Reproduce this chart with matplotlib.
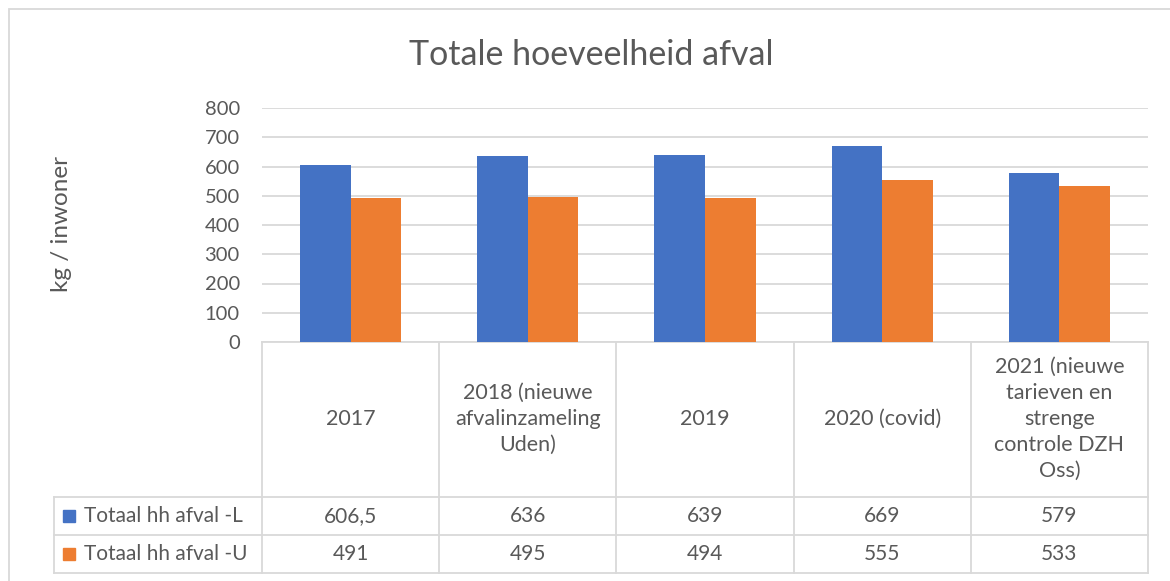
#!/usr/bin/env python3
import matplotlib
matplotlib.use('Agg')
import matplotlib.pyplot as plt
import matplotlib.transforms as mtransforms
from matplotlib.lines import Line2D
from matplotlib.patches import Rectangle
import numpy as np

# data
categories = [
    "2017",
    "2018 (nieuwe\nafvalinzameling\nUden)",
    "2019",
    "2020 (covid)",
    "2021 (nieuwe\ntarieven en\nstrenge\ncontrole DZH\nOss)",
]
series_names = ["Totaal hh afval -L", "Totaal hh afval -U"]
afval_L = [606.5, 636, 639, 669, 579]
afval_U = [491, 495, 494, 555, 533]
y_ticks = [0, 100, 200, 300, 400, 500, 600, 700, 800]

colors = ["#4472C4", "#ED7D31"]
GREY = "#595959"
LINE = "#D9D9D9"

plt.rcParams['font.family'] = ['Lato', 'DejaVu Sans']

W, H = 1170, 581
fig = plt.figure(figsize=(W / 100, H / 100), dpi=100)

def fx(px):  # pixel -> figure fraction
    return px / W

def fy(py):
    return 1 - py / H

# outer chart frame (cut off at right/bottom like the screenshot)
fig.add_artist(Rectangle((fx(9), -0.5), 2, fy(9) + 0.5, transform=fig.transFigure,
                         fill=False, edgecolor=LINE, lw=1.3))

ax = fig.add_axes([fx(262), fy(342), fx(1148) - fx(262), fy(108) - fy(342)])
x = np.arange(len(categories))
bw = 0.285
for i, vals in enumerate([afval_L, afval_U]):
    ax.bar(x + (i - 0.5) * bw, vals, bw, color=colors[i], zorder=3)

ax.set_xlim(-0.5, len(categories) - 0.5)
ax.set_ylim(0, 800)
ax.set_yticks(y_ticks)
ax.set_xticks([])
ax.yaxis.grid(True, color=LINE, lw=1.3)
ax.set_axisbelow(True)
for s in ['top', 'right', 'left']:
    ax.spines[s].set_visible(False)
ax.spines['bottom'].set_color(LINE)
ax.spines['bottom'].set_linewidth(1.3)
ax.tick_params(axis='y', length=0, pad=16, labelsize=14.5, labelcolor=GREY)

fig.text(fx(591), fy(55), "Totale hoeveelheid afval", ha='center', va='center',
         fontsize=24.5, color=GREY)
fig.text(fx(62), fy(224), "kg / inwoner", ha='center', va='center', rotation=90,
         fontsize=17.5, color=GREY)

# data table under the chart
tr = mtransforms.blended_transform_factory(ax.transData, fig.transFigure)
x_right = ax.get_position().x1
lkw = dict(color=LINE, lw=1.3)

for xe in np.arange(len(categories) + 1) - 0.5:
    fig.add_artist(Line2D([xe, xe], [fy(342), fy(573)], transform=tr, **lkw))
for yl in [497, 535, 573]:
    fig.add_artist(Line2D([fx(54), x_right], [fy(yl), fy(yl)], transform=fig.transFigure, **lkw))
fig.add_artist(Line2D([fx(54), fx(54)], [fy(497), fy(573)], transform=fig.transFigure, **lkw))

for xi, cat in zip(x, categories):
    fig.text(xi, fy(419), cat, transform=tr, ha='center', va='center',
             multialignment='center', linespacing=1.38, fontsize=15.5, color=GREY)

def fmt(v):
    return f"{v:g}".replace('.', ',')

row_y = [516, 554]
for name, vals, c, ry in zip(series_names, [afval_L, afval_U], colors, row_y):
    fig.add_artist(Rectangle((fx(63), fy(ry + 6)), fx(12), 12 / H,
                             transform=fig.transFigure, color=c))
    fig.text(fx(84), fy(ry), name, ha='left', va='center', fontsize=15, color=GREY)
    for xi, v in zip(x, vals):
        fig.text(xi, fy(ry), fmt(v), transform=tr, ha='center', va='center',
                 fontsize=15, color=GREY)

fig.savefig("out.png", dpi=100)
